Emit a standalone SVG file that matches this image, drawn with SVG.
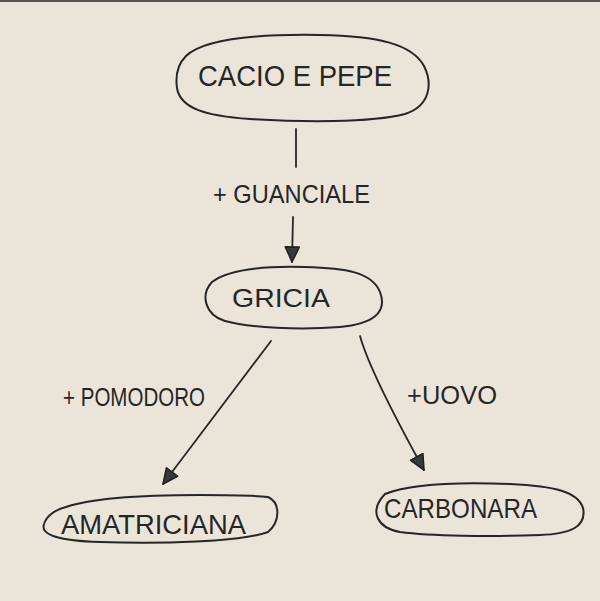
<svg xmlns="http://www.w3.org/2000/svg" width="600" height="601" viewBox="0 0 600 601">
  <style>
    .outline { fill: none; stroke: #262626; stroke-width: 2; stroke-linecap: round; stroke-linejoin: round; }
    .conn { fill: none; stroke: #262626; stroke-width: 1.8; stroke-linecap: round; }
    .label { font-family: "Liberation Sans", Arial, sans-serif; fill: #262626; font-weight: normal; }
  </style>
  <defs>
    <marker id="arrow" markerUnits="userSpaceOnUse" markerWidth="20" markerHeight="20" refX="16" refY="8" orient="auto" viewBox="0 0 20 20">
      <path d="M1,1 L16,8 L1,15 Z" fill="#383838" stroke="#222" stroke-width="1.6" stroke-linejoin="round"/>
    </marker>
  </defs>
  <rect x="0" y="0" width="600" height="601" fill="#ebe5d9"/>
  <rect x="0" y="0" width="600" height="2" fill="#5a5654"/>

  <g id="connectors">
    <line class="conn" x1="296" y1="129" x2="296" y2="167"/>
    <line class="conn" x1="293" y1="217" x2="292" y2="262" marker-end="url(#arrow)"/>
    <line class="conn" x1="271" y1="341" x2="163" y2="484" marker-end="url(#arrow)"/>
    <path class="conn" d="M360,336 C368,365 392,412 424,470" marker-end="url(#arrow)"/>
  </g>

  <g id="label-guanciale">
    <text class="label" x="213" y="203" font-size="25" textLength="157" lengthAdjust="spacingAndGlyphs">+ GUANCIALE</text>
  </g>
  <g id="label-pomodoro">
    <text class="label" x="63" y="406" font-size="25" textLength="142" lengthAdjust="spacingAndGlyphs">+ POMODORO</text>
  </g>
  <g id="label-uovo">
    <text class="label" x="407" y="404" font-size="25" textLength="90" lengthAdjust="spacingAndGlyphs">+UOVO</text>
  </g>

  <g id="node-cacio">
    <path class="outline" d="M186,56 C205,38 260,34 320,35 C378,36 412,44 424,66 C433,84 430,106 405,114 C370,123 300,122 250,119 C205,116 180,108 177,88 C175,74 178,64 186,56"/>
    <text class="label" x="198" y="86" font-size="30" textLength="194" lengthAdjust="spacingAndGlyphs">CACIO E PEPE</text>
  </g>

  <g id="node-gricia">
    <path class="outline" d="M212,282 C230,268 270,266 305,267 C345,268 372,272 380,292 C388,313 372,324 340,327 C300,330 250,328 225,321 C205,315 200,295 212,282"/>
    <text class="label" x="232" y="307" font-size="26" textLength="98" lengthAdjust="spacingAndGlyphs">GRICIA</text>
  </g>

  <g id="node-amatriciana">
    <path class="outline" d="M66,507 C95,497 150,495 200,495 C235,495 258,496 268,497 C281,503 280,522 268,532 C240,542 160,544 100,542 C60,541 40,535 44,524 C47,515 55,510 66,507"/>
    <text class="label" x="61" y="534" font-size="28" textLength="185" lengthAdjust="spacingAndGlyphs">AMATRICIANA</text>
  </g>

  <g id="node-carbonara">
    <path class="outline" d="M385,494 C410,484 460,482 510,484 C555,486 578,492 583,508 C587,527 570,534 540,535 C490,537 430,536 400,532 C378,528 368,512 385,494"/>
    <text class="label" x="384" y="518" font-size="28" textLength="153" lengthAdjust="spacingAndGlyphs">CARBONARA</text>
  </g>
</svg>
